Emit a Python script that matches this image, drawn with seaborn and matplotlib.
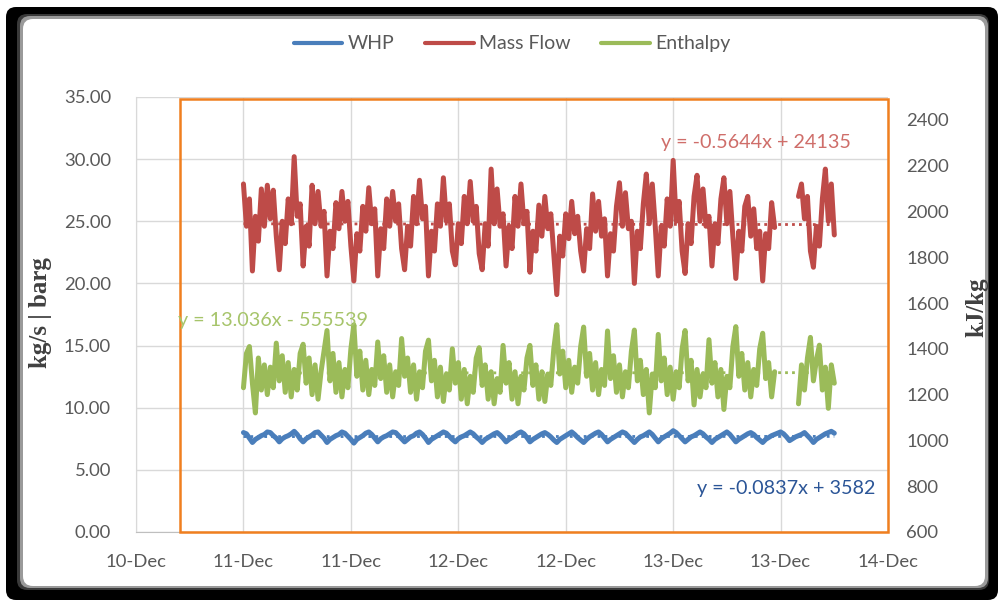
import numpy as np
import pandas as pd
import matplotlib
matplotlib.use("Agg")
import matplotlib.pyplot as plt
import seaborn as sns
from matplotlib.lines import Line2D
from matplotlib.patches import FancyBboxPatch, Rectangle
from matplotlib.transforms import IdentityTransform

# sampling: 20 min steps from the 11-Dec tick (axis units = days from first tick)
t_start = 0.5
t_step = 1 / 72

# WHP (barg) - left axis
whp = [
    8.00, 7.90, 7.55, 7.20, 7.45, 7.60, 7.75, 7.85, 8.05, 8.00,
    7.75, 7.55, 7.25, 7.50, 7.65, 7.75, 7.90, 8.10, 7.85, 7.50,
    7.25, 7.50, 7.65, 7.80, 8.00, 8.05, 7.80, 7.55, 7.20, 7.45,
    7.60, 7.75, 7.85, 8.05, 7.95, 7.70, 7.45, 7.15, 7.45, 7.60,
    7.75, 7.95, 8.05, 7.85, 7.55, 7.25, 7.50, 7.65, 7.75, 7.90,
    8.05, 8.00, 7.75, 7.50, 7.25, 7.45, 7.65, 7.75, 7.95, 8.05,
    7.85, 7.55, 7.20, 7.45, 7.60, 7.75, 7.90, 8.05, 7.95, 7.70,
    7.45, 7.25, 7.50, 7.65, 7.75, 7.90, 8.05, 7.90, 7.65, 7.45,
    7.20, 7.45, 7.60, 7.75, 7.90, 8.00, 7.80, 7.55, 7.25, 7.45,
    7.60, 7.75, 7.95, 8.05, 7.90, 7.60, 7.25, 7.45, 7.60, 7.75,
    7.90, 8.00, 7.85, 7.65, 7.40, 7.20, 7.45, 7.60, 7.75, 7.90,
    8.05, 7.85, 7.60, 7.40, 7.20, 7.45, 7.65, 7.80, 7.95, 8.05,
    7.85, 7.55, 7.25, 7.45, 7.60, 7.75, 7.90, 8.05, 7.95, 7.70,
    7.45, 7.20, 7.45, 7.65, 7.75, 7.90, 8.05, 7.85, 7.55, 7.25,
    7.50, 7.65, 7.80, 7.95, 8.15, 8.00, 7.75, 7.50, 7.25, 7.45,
    7.65, 7.75, 7.90, 8.05, 7.90, 7.65, 7.45, 7.20, 7.45, 7.60,
    7.75, 7.90, 8.05, 7.85, 7.55, 7.25, 7.45, 7.60, 7.75, 7.90,
    8.00, 7.85, 7.60, 7.40, 7.20, 7.45, 7.60, 7.75, 7.85, 7.95,
    8.05, 7.90, 7.65, 7.35, 7.50, 7.65, 7.75, 7.85, 8.00, 7.75,
    7.50, 7.20, 7.45, 7.60, 7.75, 7.90, 8.00, 8.10, 7.95,
]

# Mass Flow (kg/s) - left axis, gap in the logging
nan = np.nan
mass_flow = [
    28.0, 24.6, 26.8, 21.0, 25.4, 23.4, 27.6, 24.6, 27.9, 25.2,
    27.5, 23.8, 21.1, 25.0, 23.2, 26.8, 24.8, 30.2, 25.4, 26.4,
    21.4, 24.6, 23.0, 27.9, 24.8, 27.4, 24.6, 25.8, 20.6, 24.2,
    22.8, 26.5, 24.4, 27.4, 25.0, 26.6, 23.0, 20.2, 24.0, 22.6,
    26.2, 24.2, 27.7, 24.8, 26.0, 20.6, 24.4, 22.8, 26.8, 24.6,
    27.4, 25.0, 26.4, 22.8, 21.1, 24.6, 23.0, 27.0, 24.8, 28.3,
    25.2, 26.2, 20.6, 24.2, 22.6, 26.4, 24.6, 28.5, 25.0, 26.4,
    22.6, 21.5, 24.8, 23.2, 27.0, 24.8, 28.2, 25.0, 26.2, 22.4,
    21.1, 24.8, 23.0, 29.2, 24.8, 27.6, 24.6, 25.6, 21.4, 24.6,
    22.8, 27.0, 24.6, 28.0, 24.8, 25.8, 20.9, 24.2, 22.6, 26.3,
    23.8, 27.0, 24.4, 25.6, 22.4, 19.1, 23.8, 22.2, 25.6, 23.6,
    26.6, 24.0, 25.4, 22.6, 21.0, 24.4, 22.8, 27.2, 24.2, 26.6,
    23.8, 25.2, 20.6, 24.0, 22.6, 26.2, 28.1, 24.6, 27.3, 24.4,
    25.0, 20.0, 24.2, 22.8, 26.4, 28.8, 24.8, 28.0, 24.6, 20.6,
    24.6, 23.0, 26.8, 24.6, 29.9, 25.0, 26.6, 22.6, 20.8, 24.8,
    23.2, 27.0, 28.7, 25.0, 27.6, 24.6, 25.4, 21.4, 24.8, 23.2,
    26.8, 28.5, 24.8, 27.4, 23.8, 20.4, 24.2, 22.6, 26.2, 27.0,
    23.8, 26.0, 22.8, 24.2, 20.2, 24.0, 22.8, 26.5, 24.5, nan,
    nan, nan, nan, nan, nan, nan, 27.0, 28.0, 25.2, 27.0,
    22.6, 21.3, 24.6, 23.0, 26.8, 29.2, 25.0, 28.0, 23.9,
]

# Enthalpy (kJ/kg) - right axis
enthalpy = [
    1230, 1380, 1410, 1250, 1120, 1360, 1220, 1330, 1200, 1320,
    1230, 1425, 1260, 1370, 1210, 1340, 1190, 1310, 1220, 1380,
    1420, 1250, 1360, 1200, 1330, 1180, 1300, 1390, 1480, 1260,
    1380, 1210, 1340, 1190, 1310, 1230, 1400, 1505, 1280, 1390,
    1220, 1350, 1200, 1310, 1240, 1430, 1270, 1370, 1210, 1330,
    1190, 1300, 1240, 1445, 1280, 1360, 1210, 1330, 1180, 1300,
    1230, 1390, 1438, 1260, 1350, 1190, 1320, 1170, 1290, 1220,
    1400, 1250, 1340, 1180, 1310, 1160, 1280, 1210, 1360, 1405,
    1240, 1330, 1180, 1300, 1160, 1270, 1210, 1415, 1250, 1340,
    1180, 1300, 1160, 1280, 1220, 1360, 1415, 1240, 1330, 1180,
    1300, 1170, 1290, 1240, 1400, 1505, 1290, 1390, 1230, 1350,
    1210, 1320, 1250, 1410, 1495, 1280, 1380, 1220, 1340, 1200,
    1310, 1240, 1478, 1270, 1370, 1210, 1330, 1190, 1300, 1230,
    1390, 1482, 1260, 1350, 1200, 1310, 1120, 1290, 1230, 1463,
    1260, 1360, 1200, 1320, 1180, 1300, 1230, 1400, 1480, 1260,
    1350, 1155, 1310, 1190, 1290, 1230, 1440, 1250, 1340, 1190,
    1310, 1135, 1280, 1230, 1410, 1497, 1280, 1380, 1220, 1340,
    1190, 1310, 1240, 1400, 1468, 1270, 1340, 1190, 1300, nan,
    nan, nan, nan, nan, nan, nan, 1160, 1330, 1220, 1360,
    1450, 1260, 1350, 1416, 1220, 1320, 1140, 1330, 1250,
]

x_tick_labels = ["10-Dec", "11-Dec", "11-Dec", "12-Dec", "12-Dec", "13-Dec", "13-Dec", "14-Dec"]
trend_labels = {"WHP": "y = -0.0837x + 3582",
                "Mass Flow": "y = -0.5644x + 24135",
                "Enthalpy": "y = 13.036x - 555539"}

c_whp = "#4A7EBB"
c_flow = "#BE4B48"
c_enth = "#9BBB59"
grey_txt = "#595959"
grid_c = "#D9D9D9"

df = pd.DataFrame({"t": t_start + np.arange(len(whp)) * t_step,
                   "whp": whp, "flow": mass_flow, "enthalpy": enthalpy})
# split into segments at the logging gap so lines are not joined
df["seg"] = df["flow"].isna().cumsum()

sns.set_style("white")
plt.rcParams["font.family"] = ["Lato", "DejaVu Sans"]

fig = plt.figure(figsize=(9.98, 6.02), dpi=100)
fig.patch.set_facecolor("white")

# excel-ish black shadow frame (pixels, origin bottom-left)
frame = [((6, 2), 992, 593, "#000000"),
         ((17, 12), 972, 576, "#3a3a3a"),
         ((20, 14), 968, 572, "#9a9a9a"),
         ((23, 16), 962, 567, "#ffffff")]
for (xy, w, h, col) in frame:
    p = FancyBboxPatch(xy, w, h, boxstyle="round,pad=0,rounding_size=10",
                       transform=IdentityTransform(), facecolor=col,
                       edgecolor="none", zorder=-10)
    fig.patches.append(p)

ax = fig.add_axes([0.1363, 0.1163, 0.7535, 0.7226])
ax.set_facecolor("none")
ax2 = ax.twinx()

valid = df.dropna(subset=["flow"])

# trendlines (dotted, behind the data)
for data, col, a, target in [(df, "whp", ax, c_whp), (valid, "flow", ax, c_flow),
                             (valid, "enthalpy", ax2, c_enth)]:
    m, b = np.polyfit(data["t"], data[col], 1)
    tt = np.array([data["t"].min(), data["t"].max()])
    a.plot(tt, m * tt + b, ls=(0, (1, 1.5)), color=target, lw=2, zorder=1)

sns.lineplot(data=df, x="t", y="whp", color=c_whp, lw=3.6, ax=ax, zorder=3)
sns.lineplot(data=valid, x="t", y="flow", units="seg", estimator=None,
             color=c_flow, lw=3.6, ax=ax, zorder=3)
sns.lineplot(data=valid, x="t", y="enthalpy", units="seg", estimator=None,
             color=c_enth, lw=3.6, ax=ax2, zorder=3)

ax.set_xlim(0, 3.5)
ax.set_ylim(0, 35)
ax2.set_ylim(600, 2500)
ax.set_xticks(np.arange(len(x_tick_labels)) * 0.5)
ax.set_xticklabels(x_tick_labels)
ax.set_yticks(np.arange(0, 36, 5))
ax.set_yticklabels([f"{v:.2f}" for v in np.arange(0, 36, 5)])
ax2.set_yticks(np.arange(600, 2401, 200))
ax.set_xlabel("")
ax.set_ylabel("")
ax2.set_ylabel("")

ax.grid(True, color=grid_c, lw=1)
ax.set_axisbelow(True)
ax2.grid(False)
for a in (ax, ax2):
    for s in a.spines.values():
        s.set_visible(False)
ax.spines["left"].set_visible(True)
ax.spines["left"].set_color(grid_c)
ax.spines["bottom"].set_visible(True)
ax.spines["bottom"].set_color("#BFBFBF")

ax.tick_params(axis="y", length=0, pad=18, labelsize=13.3, labelcolor=grey_txt)
ax.tick_params(axis="x", length=0, pad=16, labelsize=13.3, labelcolor=grey_txt)
ax2.tick_params(axis="y", length=0, pad=13, labelsize=13.3, labelcolor=grey_txt)

# orange highlight box
ax2.add_patch(Rectangle((0.0585, 0.0), 0.9415, 0.995, transform=ax2.transAxes,
                        fill=False, edgecolor="#F07F1F", lw=1.8, zorder=6,
                        clip_on=False))

# trendline equations
fig.text(0.757, 0.763, trend_labels["Mass Flow"], color="#CF6E6A", fontsize=14.2,
         ha="center", va="center")
fig.text(0.274, 0.468, trend_labels["Enthalpy"], color="#A6C46A", fontsize=14.2,
         ha="center", va="center")
fig.text(0.788, 0.189, trend_labels["WHP"], color="#2B5597", fontsize=14.2,
         ha="center", va="center")

# axis titles
fig.text(0.041, 0.48, "kg/s | barg", rotation=90, ha="center", va="center",
         fontsize=18, fontweight="bold", color="#404040",
         family=["Liberation Serif", "DejaVu Serif"])
fig.text(0.979, 0.49, "kJ/kg", rotation=90, ha="center", va="center",
         fontsize=18, fontweight="bold", color="#404040",
         family=["Liberation Serif", "DejaVu Serif"])

handles = [Line2D([], [], color=c, lw=3) for c in (c_whp, c_flow, c_enth)]
fig.legend(handles, ["WHP", "Mass Flow", "Enthalpy"], loc="center",
           bbox_to_anchor=(0.513, 0.927), ncol=3, frameon=False, fontsize=14,
           handlelength=2.5, columnspacing=1.6, handletextpad=0.25,
           labelcolor=grey_txt)

fig.savefig("out.png", dpi=100, facecolor="white")
